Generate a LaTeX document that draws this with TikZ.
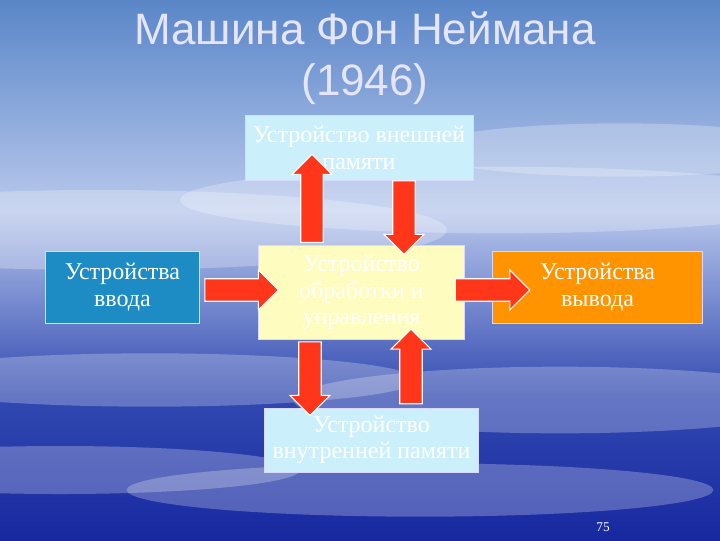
\documentclass[tikz,border=0pt]{standalone}
\usepackage{fontspec}
\setmainfont{Liberation Serif}
\newfontfamily\titlefont{Liberation Sans}
\usetikzlibrary{shapes.arrows,shadows}
\definecolor{skytop}{HTML}{5A86C8}
\definecolor{skymid}{HTML}{B8C8EC}
\definecolor{skylow}{HTML}{3048B0}
\definecolor{skybot}{HTML}{1828A0}
\definecolor{inblue}{HTML}{1E8CC4}
\tikzset{
 box/.style={draw=white!85!blue,line width=0.6pt,align=center,text=white,font=\fontsize{18}{20}\selectfont,inner sep=2pt},
 barrow/.style={single arrow,draw=white,line width=0.8pt,fill=red!75!orange!90!white,minimum width=30pt,single arrow head extend=5pt,inner sep=6pt}
}
\begin{document}
\begin{tikzpicture}[x=0.75pt,y=-0.75pt]
\useasboundingbox (0,0) rectangle (720,540);
\shade[top color=skytop,bottom color=skymid] (0,0) rectangle (720,210);
\shade[top color=skymid,bottom color=skylow] (0,210) rectangle (720,400);
\shade[top color=skylow,bottom color=skybot] (0,400) rectangle (720,540);
\foreach \x/\y/\w/\h in {100/230/260/30,500/200/240/25,150/380/200/20,560/400/200/25,60/470/180/18,420/490/220/20,620/150/150/20}
  \fill[white,opacity=0.25] (\x,\y) ellipse (\w pt and \h pt);
\node[font=\titlefont\fontsize{33}{38}\selectfont,text=blue!10!white,align=center] (title) at (365,58) {Машина Фон Неймана\\(1946)};
\node[box,fill=cyan!20!white,minimum width=171pt,minimum height=49pt] (ext) at (359,148) {Устройство внешней\\памяти};
\node[box,fill=inblue,minimum width=115pt,minimum height=54pt] (in) at (122.5,287) {Устройства\\ввода};
\node[box,fill=yellow!25!white,minimum width=154pt,minimum height=71pt] (cpu) at (361.5,292.5) {Устройство\\обработки и\\управления};
\node[box,fill=orange!85!yellow,minimum width=158pt,minimum height=54pt] (out) at (597.5,287) {Устройства\\вывода};
\node[box,fill=cyan!20!white,minimum width=161pt,minimum height=48pt] (mem) at (371.5,440) {Устройство\\внутренней памяти};
\node[barrow,rotate=90,minimum height=66pt] (a1) at (312,204) {};
\node[barrow,rotate=-90,minimum height=55pt] (a2) at (404,212) {};
\node[barrow,minimum height=55pt] (a3) at (236,290) {};
\node[barrow,minimum height=56pt] (a4) at (487,290) {};
\node[barrow,rotate=-90,minimum height=55pt] (a5) at (310,373) {};
\node[barrow,rotate=90,minimum height=56pt] (a6) at (411,372) {};
\node[text=white,font=\fontsize{10}{12}\selectfont] (pg) at (603,527) {75};
\end{tikzpicture}
\end{document}
